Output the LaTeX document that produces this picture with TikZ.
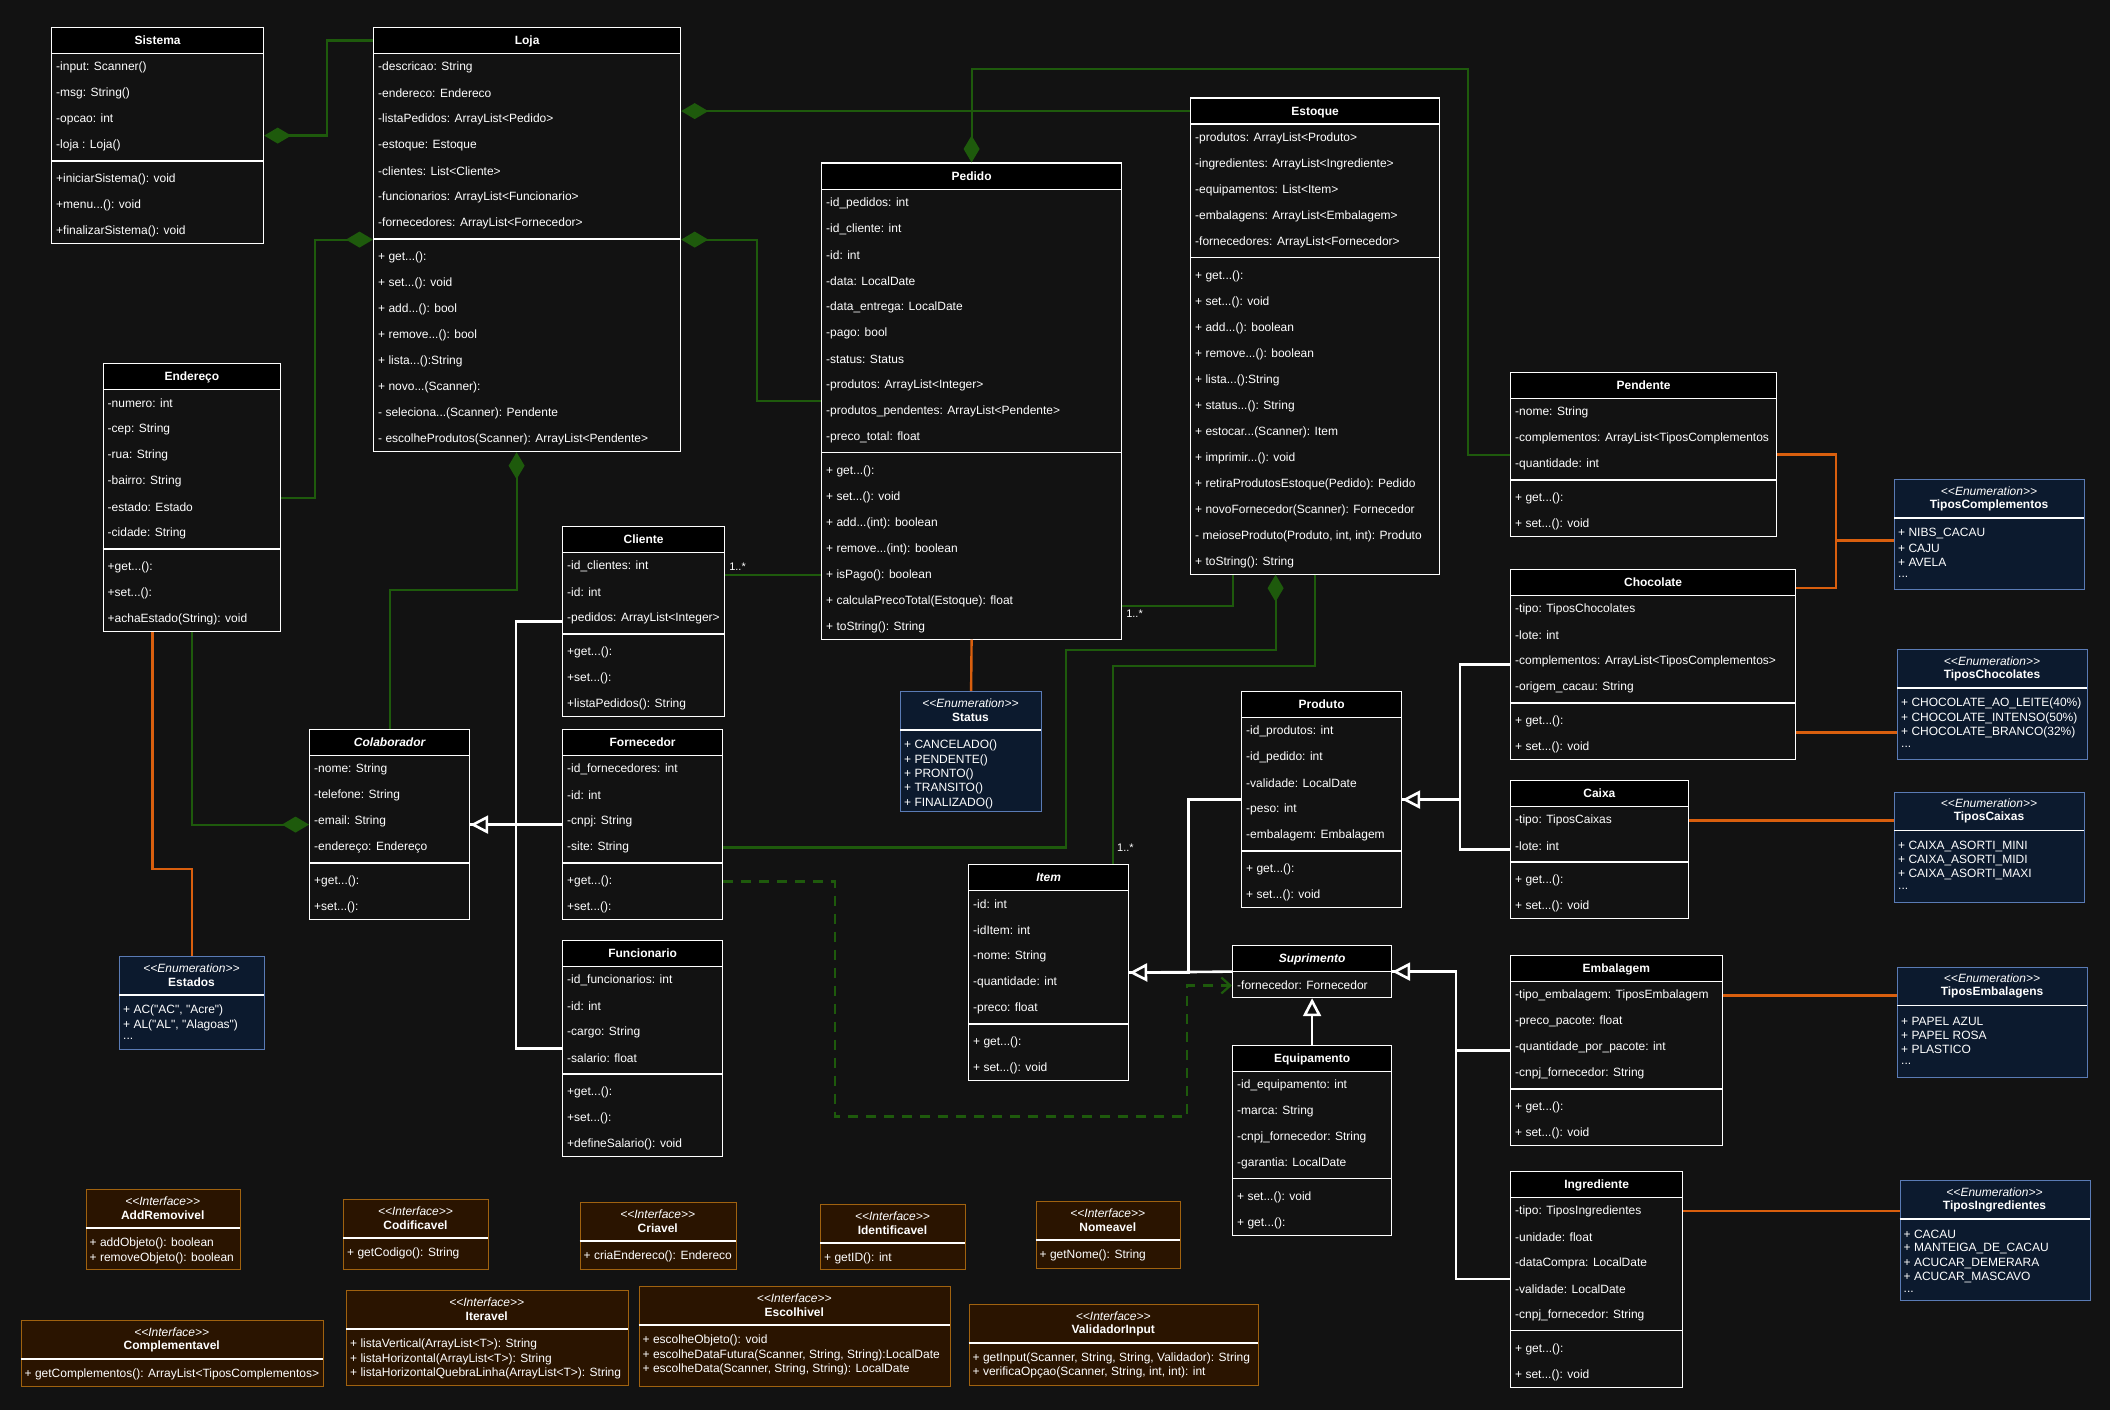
\documentclass[tikz,border=0pt]{standalone}
\usepackage{fontspec}
\setmainfont{Liberation Sans}[Ligatures=TeXOff]
\usetikzlibrary{arrows.meta}
\definecolor{bgcol}{HTML}{121212}
\definecolor{linkgreen}{HTML}{1E5A0C}
\definecolor{enumorange}{HTML}{D95F0E}
\definecolor{enumfill}{HTML}{0C1A2E}
\definecolor{enumdraw}{HTML}{5A7BB5}
\definecolor{ifacefill}{HTML}{2A1400}
\definecolor{ifacedraw}{HTML}{A0620F}
\newcommand\umlfont{\fontsize{12}{14.4}\selectfont}
\newcommand\etc{...}
% class: [title style]{name}{left}{top}{width}{title}{attributes}{methods}
\newcommand{\umlclass}[8][]{%
  \foreach \row [count=\i] in {#7} {\xdef\nattr{\i}}%
  \def\mlist{#8}%
  \ifx\mlist\empty
    \gdef\nmeth{0}\gdef\msep{0}%
  \else
    \foreach \row [count=\i] in {#8} {\xdef\nmeth{\i}}\gdef\msep{8}%
  \fi
  \pgfmathsetmacro\boxh{26+26*\nattr+\msep+26*\nmeth}%
  \node[classbox,minimum width=#5,minimum height=\boxh,anchor=north west] (#2) at (#3,#4) {};
  \node[classhead,minimum width=#5,font=\umlfont\bfseries#1,anchor=north west] (#2-h) at (#3,#4) {#6};
  \foreach \row [count=\i] in {#7}
    \node[member] (#2-a\i) at ({#3+5},{#4+13+26*\i}) {\ignorespaces\row};
  \ifx\mlist\empty\else
    \draw[divider] ({#3},{#4+30+26*\nattr}) -- ++(#5,0);
    \foreach \row [count=\i] in {#8}
      \node[member] (#2-m\i) at ({#3+5},{#4+21+26*\nattr+26*\i}) {\ignorespaces\row};
  \fi
}
% enumeration / interface: {style}{name}{left}{top}{width}{height}{stereotype}{title}{items}
\newcommand{\umlbox}[9]{%
  \node[#1,minimum width=#5,minimum height=#6,anchor=north west] (#2) at (#3,#4) {};
  \node[stereo] (#2-s) at ({#3+#5/2},{#4+11}) {<<#7>>};
  \node[boxtitle] (#2-t) at ({#3+#5/2},{#4+25}) {#8};
  \draw[divider] ({#3},{#4+39}) -- ++(#5,0);
  \foreach \row [count=\i] in {#9}
    \node[member] (#2-i\i) at ({#3+4},{#4+53+14.4*(\i-1)}) {\ignorespaces\row};
}

\begin{document}
\begin{tikzpicture}[x=1pt,y=-1pt,
  classbox/.style={draw=white,fill=bgcol,line width=1.2pt,inner sep=0},
  classhead/.style={draw=white,fill=black,line width=1.2pt,minimum height=26,inner sep=0,text=white,
    text height=9pt,text depth=1pt},
  member/.style={anchor=west,inner sep=0,text=white,font=\umlfont,yshift=-1.5pt},
  enumbox/.style={draw=enumdraw,fill=enumfill,line width=1.2pt,inner sep=0},
  ifacebox/.style={draw=ifacedraw,fill=ifacefill,line width=1.2pt,inner sep=0},
  stereo/.style={inner sep=0,text=white,font=\umlfont\itshape,yshift=-1pt},
  boxtitle/.style={inner sep=0,text=white,font=\umlfont\bfseries,yshift=-1pt},
  divider/.style={white,line width=1.2pt},
  comp/.style={linkgreen,line width=2.2pt,arrows={Diamond[length=27pt,width=16pt]-}},
  assoc/.style={linkgreen,line width=2.2pt},
  dep/.style={linkgreen,line width=2.2pt,dash pattern=on 10pt off 8pt,arrows={-Straight Barb[length=9pt,width=16pt]}},
  gen/.style={white,line width=2.6pt},
  inh/.style={white,line width=2.6pt,arrows={-Triangle[length=18pt,width=18pt,fill=bgcol]}},
  enumline/.style={enumorange,line width=2.4pt},
  mult/.style={text=white,font=\fontsize{11}{13}\selectfont,inner sep=3pt}]
  \fill[bgcol] (0,0) rectangle (2110,1410);

  % classes
  \umlclass{sistema}{51}{27}{212}{Sistema}{-input: Scanner(), -msg: String(), -opcao: int, -loja : Loja()}
    {+iniciarSistema(): void, +menu\etc(): void, +finalizarSistema(): void}
  \umlclass{loja}{373}{27}{307}{Loja}{-descricao: String, -endereco: Endereco, -listaPedidos: ArrayList<Pedido>,
    -estoque: Estoque, -clientes: List<Cliente>, -funcionarios: ArrayList<Funcionario>, -fornecedores: ArrayList<Fornecedor>}
    {+ get\etc():, + set\etc(): void, + add\etc(): bool, + remove\etc(): bool, + lista\etc():String,
    + novo\etc(Scanner):, - seleciona\etc(Scanner): Pendente, - escolheProdutos(Scanner): ArrayList<Pendente>}
  \umlclass{endereco}{102.5}{363}{177.5}{Endereço}{-numero: int, -cep: String, -rua: String, -bairro: String,
    -estado: Estado, -cidade: String}{+get\etc():, +set\etc():, +achaEstado(String): void}
  \umlclass{pedido}{821}{162.5}{300}{Pedido}{-id\_pedidos: int, -id\_cliente: int, -id: int, -data: LocalDate,
    -data\_entrega: LocalDate, -pago: bool, -status: Status, -produtos: ArrayList<Integer>,
    -produtos\_pendentes: ArrayList<Pendente>, -preco\_total: float}
    {+ get\etc():, + set\etc(): void, + add\etc(int): boolean, + remove\etc(int): boolean, + isPago(): boolean,
    + calculaPrecoTotal(Estoque): float, + toString(): String}
  \umlclass{estoque}{1190}{97.5}{249}{Estoque}{-produtos: ArrayList<Produto>, -ingredientes: ArrayList<Ingrediente>,
    -equipamentos: List<Item>, -embalagens: ArrayList<Embalagem>, -fornecedores: ArrayList<Fornecedor>}
    {+ get\etc():, + set\etc(): void, + add\etc(): boolean, + remove\etc(): boolean, + lista\etc():String,
    + status\etc(): String, + estocar\etc(Scanner): Item, + imprimir\etc(): void,
    + retiraProdutosEstoque(Pedido): Pedido, + novoFornecedor(Scanner): Fornecedor,
    {- meioseProduto(Produto, int, int): Produto}, + toString(): String}
  \umlclass{cliente}{562}{526}{162}{Cliente}{-id\_clientes: int, -id: int, -pedidos: ArrayList<Integer>}
    {+get\etc():, +set\etc():, +listaPedidos(): String}
  \umlclass[\itshape]{colab}{309}{729}{160}{Colaborador}{-nome: String, -telefone: String, -email: String,
    -endereço: Endereço}{+get\etc():, +set\etc():}
  \umlclass{fornecedor}{562}{729}{160}{Fornecedor}{-id\_fornecedores: int, -id: int, -cnpj: String, -site: String}
    {+get\etc():, +set\etc():}
  \umlclass{funcionario}{562}{940}{160}{Funcionario}{-id\_funcionarios: int, -id: int, -cargo: String, -salario: float}
    {+get\etc():, +set\etc():, +defineSalario(): void}
  \umlclass[\itshape]{item}{968}{864}{160}{Item}{-id: int, -idItem: int, -nome: String, -quantidade: int, -preco: float}
    {+ get\etc():, + set\etc(): void}
  \umlclass{produto}{1241}{691}{160}{Produto}{-id\_produtos: int, -id\_pedido: int, -validade: LocalDate, -peso: int,
    -embalagem: Embalagem}{+ get\etc():, + set\etc(): void}
  \umlclass[\itshape]{suprimento}{1232}{945}{159}{Suprimento}{-fornecedor: Fornecedor}{}
  \umlclass{equipamento}{1232}{1044.5}{159}{Equipamento}{-id\_equipamento: int, -marca: String,
    -cnpj\_fornecedor: String, -garantia: LocalDate}{+ set\etc(): void, + get\etc():}
  \umlclass{pendente}{1510}{372}{266}{Pendente}{-nome: String, -complementos: ArrayList<TiposComplementos,
    -quantidade: int}{+ get\etc():, + set\etc(): void}
  \umlclass{chocolate}{1510}{569}{285}{Chocolate}{-tipo: TiposChocolates, -lote: int,
    -complementos: ArrayList<TiposComplementos>, -origem\_cacau: String}{+ get\etc():, + set\etc(): void}
  \umlclass{caixa}{1510}{780}{177.5}{Caixa}{-tipo: TiposCaixas, -lote: int}{+ get\etc():, + set\etc(): void}
  \umlclass{embalagem}{1510}{955}{211.5}{Embalagem}{-tipo\_embalagem: TiposEmbalagem, -preco\_pacote: float,
    -quantidade\_por\_pacote: int, -cnpj\_fornecedor: String}{+ get\etc():, + set\etc(): void}
  \umlclass{ingrediente}{1510}{1170.5}{172}{Ingrediente}{-tipo: TiposIngredientes, -unidade: float,
    -dataCompra: LocalDate, -validade: LocalDate, -cnpj\_fornecedor: String}{+ get\etc():, + set\etc(): void}

  % enumerations
  \umlbox{enumbox}{estados}{119}{956}{145}{93}{Enumeration}{Estados}
    {{+ AC("AC", "Acre")}, {+ AL("AL", "Alagoas")}, \etc}
  \umlbox{enumbox}{status}{900}{691}{141}{120}{Enumeration}{Status}
    {+ CANCELADO(), + PENDENTE(), + PRONTO(), + TRANSITO(), + FINALIZADO()}
  \umlbox{enumbox}{tiposcomp}{1894}{479}{190}{110}{Enumeration}{TiposComplementos}
    {+ NIBS\_CACAU, + CAJU, + AVELA, \etc}
  \umlbox{enumbox}{tiposchoc}{1897}{649}{190}{110}{Enumeration}{TiposChocolates}
    {+ CHOCOLATE\_AO\_LEITE(40\%), + CHOCOLATE\_INTENSO(50\%), + CHOCOLATE\_BRANCO(32\%), \etc}
  \umlbox{enumbox}{tiposcaixas}{1894}{791.5}{190}{110}{Enumeration}{TiposCaixas}
    {+ CAIXA\_ASORTI\_MINI, + CAIXA\_ASORTI\_MIDI, + CAIXA\_ASORTI\_MAXI, \etc}
  \umlbox{enumbox}{tiposemb}{1897}{966.5}{190}{110}{Enumeration}{TiposEmbalagens}
    {+ PAPEL AZUL, + PAPEL ROSA, + PLASTICO, \etc}
  \umlbox{enumbox}{tiposingr}{1899.5}{1180}{190}{120}{Enumeration}{TiposIngredientes}
    {+ CACAU, + MANTEIGA\_DE\_CACAU, + ACUCAR\_DEMERARA, + ACUCAR\_MASCAVO, \etc}

  % interfaces
  \umlbox{ifacebox}{addremov}{85.5}{1189}{154.5}{80}{Interface}{AddRemovivel}
    {+ addObjeto(): boolean, + removeObjeto(): boolean}
  \umlbox{ifacebox}{codif}{343}{1199}{145}{70}{Interface}{Codificavel}{+ getCodigo(): String}
  \umlbox{ifacebox}{criavel}{579.5}{1202}{156.5}{67}{Interface}{Criavel}{+ criaEndereco(): Endereco}
  \umlbox{ifacebox}{identif}{820}{1204}{145}{65}{Interface}{Identificavel}{+ getID(): int}
  \umlbox{ifacebox}{nomeavel}{1035.5}{1201}{144.5}{67}{Interface}{Nomeavel}{+ getNome(): String}
  \umlbox{ifacebox}{complem}{20.5}{1320}{302.5}{66}{Interface}{Complementavel}
    {+ getComplementos(): ArrayList<TiposComplementos>}
  \umlbox{ifacebox}{iteravel}{346}{1290}{281.5}{95}{Interface}{Iteravel}
    {+ listaVertical(ArrayList<T>): String, + listaHorizontal(ArrayList<T>): String,
    + listaHorizontalQuebraLinha(ArrayList<T>): String}
  \umlbox{ifacebox}{escolhivel}{638.5}{1286}{311.5}{100}{Interface}{Escolhivel}
    {+ escolheObjeto(): void, {+ escolheDataFutura(Scanner, String, String):LocalDate},
    {+ escolheData(Scanner, String, String): LocalDate}}
  \umlbox{ifacebox}{validador}{968.5}{1304}{289.5}{81}{Interface}{ValidadorInput}
    {{+ getInput(Scanner, String, String, Validador): String}, {+ verificaOpçao(Scanner, String, int, int): int}}

  % composition
  \draw[comp] (sistema.east) -- ++(63,0) |- (loja-h.west);
  \draw[comp] (loja.west) -- ++(-58,0) |- (endereco.east);
  \draw[comp] (loja.east |- estoque-h) -- (estoque-h.west);
  \draw[comp] (loja.east) -- ++(75.5,0) |- (pedido.west);
  \draw[comp] ([xshift=-10.5pt]loja.south) -- ++(0,138) -| (colab.north);
  \draw[comp] (pedido.north) -- ++(0,-93.5) -| ([xshift=-42pt]pendente.west) -- (pendente.west);
  \draw[comp] (colab.west) -| (endereco.south);
  \draw[comp] ([xshift=-39.5pt]estoque.south) -- ++(0,75.5) -- ++(-209.5,0) |- (fornecedor-a4 -| fornecedor.east);

  % association
  \draw[assoc] (pedido-m5 -| cliente.east) node[mult,anchor=south west] {1..*} -- (pedido-m5 -| pedido.west);
  \draw[assoc] ([yshift=34pt]pedido.south east) node[mult,anchor=north west] {1..*} -| ([xshift=43pt]estoque.south west);
  \draw[assoc] (estoque.south) -- ++(0,91.5) -| ([xshift=64.5pt]item.north) node[mult,anchor=south west,yshift=8pt] {1..*};
  \draw[dep] (fornecedor-m1 -| fornecedor.east) -- ++(112,0) -- ++(0,235) -- ++(352,0) |- (suprimento-a1 -| suprimento.west);

  % generalization
  \draw[gen] (cliente.west) -- ++(-46,0) |- (colab.east);
  \draw[gen] (funcionario.west) -- ++(-46,0) |- (colab.east);
  \draw[inh] (fornecedor.west) -- (colab.east);
  \draw[gen] (produto.west) -- ++(-52.5,0) |- (item.east);
  \draw[inh] (suprimento.west) -- (item.east);
  \draw[inh] (equipamento.north) -- (suprimento.south);
  \draw[gen] (ingrediente.west) -- ++(-54,0) |- (suprimento.east);
  \draw[inh] (embalagem.west) -- ++(-54,0) |- (suprimento.east);
  \draw[gen] (caixa.west) -- ++(-50,0) |- (produto.east);
  \draw[inh] (chocolate.west) -- ++(-50,0) |- (produto.east);

  % enumeration links
  \draw[enumline] (pedido.south) -- (status.north);
  \draw[enumline] ([xshift=-39.5pt]endereco.south) -- ++(0,237) -| (estados.north);
  \draw[enumline] (pendente.east) -- ++(59,0) |- ([yshift=-19pt]chocolate.north east);
  \draw[enumline] ([yshift=-6pt]tiposcomp.west) -- ++(-59,0);
  \draw[enumline] (tiposchoc-i3 -| chocolate.east) -- (tiposchoc-i3 -| tiposchoc.west);
  \draw[enumline] (caixa-a1 -| caixa.east) -- (caixa-a1 -| tiposcaixas.west);
  \draw[enumline] (embalagem-a1 -| embalagem.east) -- (embalagem-a1 -| tiposemb.west);
  \draw[enumline] (ingrediente-a1 -| ingrediente.east) -- (ingrediente-a1 -| tiposingr.west);
\end{tikzpicture}
\end{document}
